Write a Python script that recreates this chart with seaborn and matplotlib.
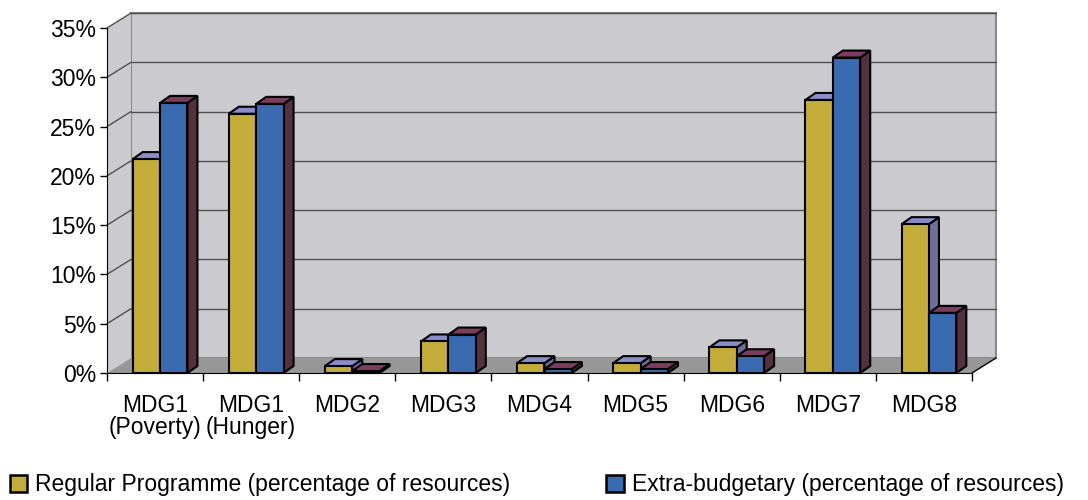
import numpy as np
import pandas as pd
import matplotlib
matplotlib.use('Agg')
import matplotlib.pyplot as plt
from matplotlib.patches import Polygon, Rectangle, Patch
from matplotlib.ticker import FuncFormatter
import seaborn as sns

# data (percent of resources)
categories = ['MDG1\n(Poverty)', 'MDG1\n(Hunger)', 'MDG2', 'MDG3', 'MDG4',
              'MDG5', 'MDG6', 'MDG7', 'MDG8']
regular = [21.7, 26.3, 0.7, 3.2, 1.0, 1.0, 2.6, 27.7, 15.1]
extra = [27.4, 27.3, 0.2, 3.9, 0.4, 0.4, 1.7, 32.0, 6.1]
series = ['Regular Programme (percentage of resources)',
          'Extra-budgetary (percentage of resources)']

df = pd.DataFrame({
    'cat': categories * 2,
    'value': regular + extra,
    'series': [series[0]] * len(categories) + [series[1]] * len(categories),
})

front = {series[0]: '#C4AC3A', series[1]: '#3A6BB0'}
top_col = {series[0]: '#8C8CCA', series[1]: '#7C3C5E'}
side_col = {series[0]: '#6E6E9A', series[1]: '#55303F'}

sns.set_style('white')
plt.rcParams['font.family'] = ['Liberation Sans', 'DejaVu Sans']
plt.rcParams['text.color'] = 'black'
plt.rcParams['xtick.color'] = 'black'
plt.rcParams['ytick.color'] = 'black'
fs = 16.5

fig = plt.figure(figsize=(10.88, 5.0), dpi=100)
ax = fig.add_axes([107 / 1088, 127 / 500, 865 / 1088, 345 / 500])
ax.set_facecolor('none')

sns.barplot(data=df, x='cat', y='value', hue='series', palette=front,
            width=0.57, edgecolor='black', linewidth=1.5, legend=False,
            saturation=1, ax=ax, zorder=3)

# remember which series each bar belongs to
bars = []
for s, cont in zip(series, ax.containers):
    for p in cont.patches:
        bars.append((p, s))

n = len(categories)
ax.set_xlim(-0.5, n - 0.5)
ax.set_ylim(0, 35)

# pixel -> data conversions for the 3-D look
px_x = n / 865.0
px_y = 35.0 / 345.0
wall_dx, wall_dy = 24 * px_x, 15 * px_y
bar_dx, bar_dy = 10 * px_x, 7 * px_y
shift = 5 * px_x

wall_c = '#CACACF'
floor_c = '#979797'
grid_c = '#505050'
x0, x1 = -0.5, n - 0.5

# back wall
ax.add_patch(Rectangle((x0 + wall_dx, wall_dy), x1 - x0, 35, facecolor=wall_c,
                       edgecolor='#8a8a8a', lw=1.5, zorder=0, clip_on=False))
# left wall
ax.add_patch(Polygon([(x0, 0), (x0, 35), (x0 + wall_dx, 35 + wall_dy),
                      (x0 + wall_dx, wall_dy)], closed=True, facecolor=wall_c,
                     edgecolor='none', zorder=0.5, clip_on=False))
# floor
ax.add_patch(Polygon([(x0, 0), (x1, 0), (x1 + wall_dx, wall_dy),
                      (x0 + wall_dx, wall_dy)], closed=True, facecolor=floor_c,
                     edgecolor='none', zorder=1, clip_on=False))
ax.plot([x1, x1 + wall_dx], [0, wall_dy], color='black', lw=1, zorder=1.5,
        clip_on=False)

# gridlines on the back and left walls
for v in np.arange(5, 36, 5):
    ax.plot([x0 + wall_dx, x1 + wall_dx], [v + wall_dy, v + wall_dy],
            color=grid_c, lw=1, zorder=0.8, clip_on=False)
    ax.plot([x0, x0 + wall_dx], [v, v + wall_dy], color=grid_c, lw=1,
            zorder=0.8, clip_on=False)

# 3-D faces of the bars, painted left to right
ordered = sorted(bars, key=lambda b: b[0].get_x())
for i, (p, s) in enumerate(ordered):
    p.set_x(p.get_x() + shift)
    bx, w, h = p.get_x(), p.get_width(), p.get_height()
    z = 3 + i * 0.01
    p.set_zorder(z + 0.005)
    p.set_clip_on(False)
    ax.add_patch(Polygon([(bx + w, 0), (bx + w, h), (bx + w + bar_dx, h + bar_dy),
                          (bx + w + bar_dx, bar_dy)], closed=True,
                         facecolor=side_col[s], edgecolor='black', lw=1.5,
                         zorder=z, clip_on=False))
    ax.add_patch(Polygon([(bx, h), (bx + w, h), (bx + w + bar_dx, h + bar_dy),
                          (bx + bar_dx, h + bar_dy)], closed=True,
                         facecolor=top_col[s], edgecolor='black', lw=1.5,
                         zorder=z, clip_on=False))

# axes styling
for sp in ['top', 'right']:
    ax.spines[sp].set_visible(False)
ax.spines['left'].set_color('black')
ax.spines['bottom'].set_color('black')
ax.spines['left'].set_zorder(2)
ax.spines['bottom'].set_zorder(2)
ax.grid(False)

ax.set_yticks(np.arange(0, 36, 5))
ax.yaxis.set_major_formatter(FuncFormatter(lambda v, _: f'{v:.0f}%'))
ax.tick_params(axis='y', direction='out', length=5, width=1, left=True,
               labelsize=fs, pad=3, colors='black')
ax.set_xticks(np.arange(n))
ax.set_xticklabels(categories)
ax.set_xticks(np.arange(-0.5, n, 1), minor=True)
ax.tick_params(axis='x', which='major', length=0, labelsize=fs, pad=15,
               colors='black')
ax.tick_params(axis='x', which='minor', direction='out', length=6, width=1,
               bottom=True)
for lbl in ax.get_xticklabels():
    lbl.set_linespacing(0.95)
ax.set_xlabel('')
ax.set_ylabel('')

handles = [Patch(facecolor=front[s], edgecolor='black', lw=1.8) for s in series]
fig.legend(handles, series, loc='lower left', bbox_to_anchor=(-0.01, -0.034),
           ncol=2, frameon=False, fontsize=fs, handlelength=0.75,
           handleheight=0.75, handletextpad=0.35, columnspacing=4.2)

fig.savefig('out.png', dpi=100, facecolor='white')
